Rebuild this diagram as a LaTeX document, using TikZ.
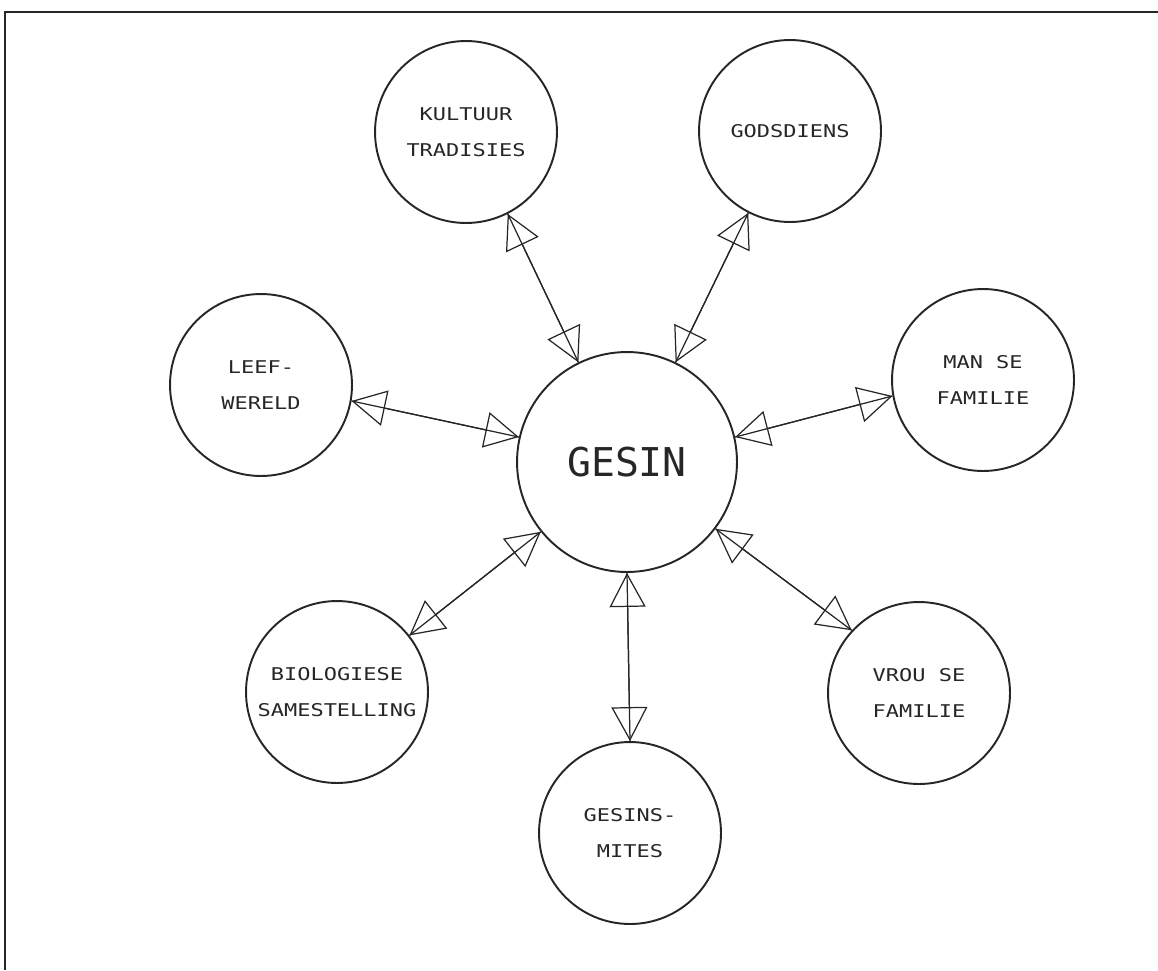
\documentclass[tikz,border=0pt]{standalone}
\usepackage{fontspec}
\usetikzlibrary{arrows.meta}
\newfontfamily\plotfont{DejaVu Sans Mono}
\newfontfamily\plotwide[FakeStretch=1.25]{DejaVu Sans Mono}
\definecolor{PlotInk}{RGB}{38,38,38}
\tikzset{
  bubble/.style={draw=PlotInk,circle,line width=1.1pt,minimum size=3.64cm,inner sep=0pt,
    align=center,text=PlotInk,font=\plotwide\fontsize{10pt}{20.5pt}\selectfont},
  hub/.style={bubble,minimum size=4.4cm,font=\plotfont\fontsize{22.6pt}{26pt}\selectfont},
  arrow/.style={{Triangle[open,length=0.68cm,width=0.72cm]}-{Triangle[open,length=0.68cm,width=0.72cm]},
    line width=0.7pt,draw=PlotInk,postaction={draw=PlotInk,-}},
  frame/.style={line width=1.6pt,draw=PlotInk}
}

\begin{document}
\begin{tikzpicture}[x=0.02cm,y=-0.02cm]
  \useasboundingbox (0,0) rectangle (1158,970);
  % page frame, open to the right and below
  \draw[frame] (5,970) -- (5,12) -- (1158,12);

  % centre
  \node[hub] (gesin) at (627,462) {GESIN};

  % surrounding circles
  \node[bubble] (kultuur) at (466,132) {KULTUUR\\TRADISIES};
  \node[bubble] (godsdiens) at (790,131) {GODSDIENS};
  \node[bubble] (leefwereld) at (261,385) {LEEF-\\WERELD};
  \node[bubble] (manfam) at (983,380) {MAN SE\\FAMILIE};
  \node[bubble] (biologie) at (337,692) {BIOLOGIESE\\SAMESTELLING};
  \node[bubble] (vroufam) at (919,693) {VROU SE\\FAMILIE};
  \node[bubble] (mites) at (630,833) {GESINS-\\MITES};

  % two-way links to the centre
  \draw[arrow] (kultuur.-63) -- (gesin.116);
  \draw[arrow] (godsdiens.-117) -- (gesin.64);
  \draw[arrow] (leefwereld.-10) -- (gesin.167);
  \draw[arrow] (gesin.13) -- (manfam.190);
  \draw[arrow] (gesin.219) -- (biologie.38);
  \draw[arrow] (gesin.-37) -- (vroufam.137);
  \draw[arrow] (gesin.south) -- (mites.north);
\end{tikzpicture}
\end{document}
